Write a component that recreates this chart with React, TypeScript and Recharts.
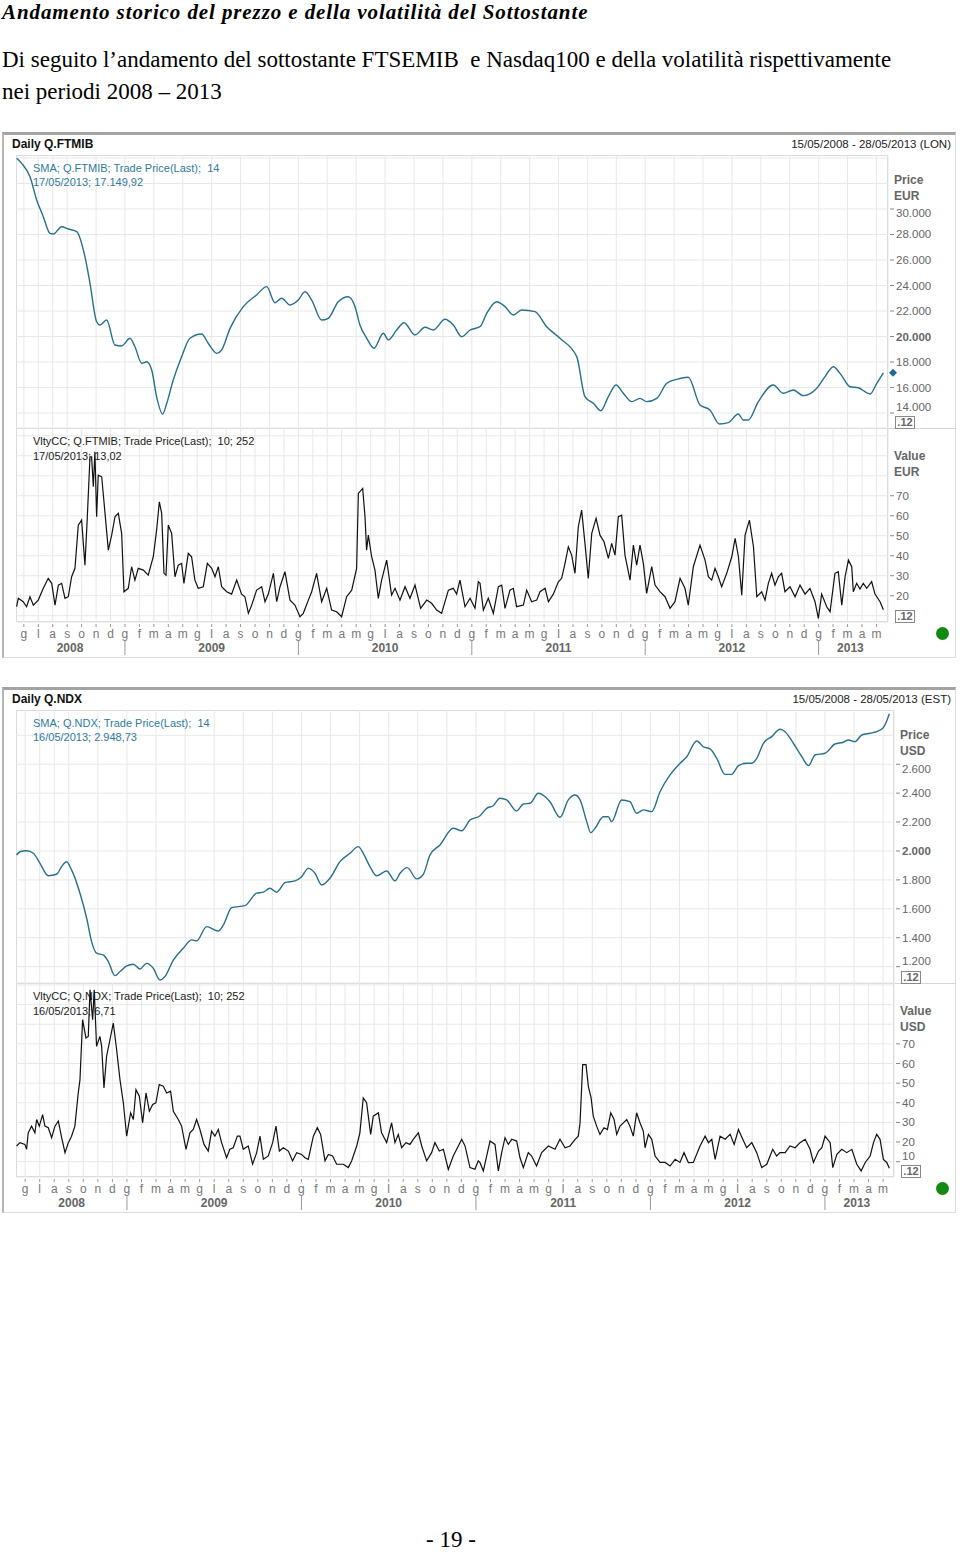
import React from "react";
import { LineChart, Line, XAxis, YAxis, CartesianGrid, ReferenceDot } from "recharts";

const FONT = "'Liberation Sans', Arial, sans-serif";
const SERIF = "'Liberation Serif', 'Times New Roman', serif";

// x values are months since 1 Jan 2008 (fractional)

// FTSE MIB – SMA 14
const ftmibSmaMonths = [
  4.51, 4.85, 5.43, 5.89, 6.35, 6.81, 7.04, 7.62, 8.08, 8.66,
  9.23, 9.58, 10.04, 10.27, 10.73, 11.31, 11.77, 12.35, 12.69, 13.16,
  13.5, 13.85, 14.19, 14.61, 14.89, 15.34, 15.92, 16.5, 17.31, 17.76,
  18.35, 18.69, 19.27, 20.19, 21.11, 21.81, 22.38, 22.84, 23.42, 23.99,
  24.46, 24.92, 25.61, 26.07, 26.76, 27.45, 27.92, 28.26, 28.73, 29.23,
  29.88, 30.22, 30.8, 31.31, 32.07, 32.76, 33.34, 34.15, 34.72, 35.3,
  35.88, 36.57, 37.03, 37.72, 38.3, 38.87, 39.45, 40.37, 41.18, 42.1,
  43.26, 43.83, 44.41, 44.92, 45.45, 45.98, 46.48, 47.07, 47.64, 48.1,
  48.8, 49.49, 50.18, 50.98, 51.79, 52.48, 53.13, 53.75, 54.44, 54.79,
  55.13, 55.83, 56.86, 57.56, 58.25, 58.94, 59.87, 60.44, 61.02, 61.48,
  62.17, 62.75, 63.56, 64.02, 64.48,
];
const ftmibSmaValues = [
  33980, 33580, 32530, 30710, 29400, 28090, 28040, 28610, 28430, 28220,
  26260, 24170, 21160, 20900, 21290, 19330, 19260, 19860, 19200, 17900,
  18020, 17370, 15280, 13920, 14760, 16590, 18420, 19860, 20200, 19470,
  18680, 18940, 20640, 22340, 23260, 23910, 22650, 23000, 22470, 22860,
  23510, 22860, 21290, 21430, 22730, 23120, 22340, 20900, 19860, 19080,
  20250, 19730, 20510, 21080, 20120, 20720, 20510, 21350, 20900, 19980,
  20510, 20770, 21820, 22730, 22340, 21690, 22080, 21950, 20770, 19860,
  18420, 15280, 14760, 14180, 15280, 16200, 15550, 14890, 15150, 14890,
  15150, 16330, 16640, 16800, 14630, 14240, 13140, 13240, 13920, 13450,
  13450, 14890, 16200, 15550, 15800, 15360, 15940, 16850, 17630, 17110,
  16060, 15980, 15490, 16330, 17150,
];

// FTSE MIB – volatility (10; 252)
const ftmibVolMonths = [
  4.5, 4.62, 4.96, 5.19, 5.43, 5.66, 6.0, 6.35, 6.69, 6.93,
  7.16, 7.39, 7.62, 7.85, 8.08, 8.31, 8.54, 8.77, 9.0, 9.23,
  9.39, 9.58, 9.69, 9.81, 9.92, 10.04, 10.15, 10.39, 10.62, 10.85,
  11.08, 11.31, 11.54, 11.77, 11.93, 12.23, 12.46, 12.69, 12.92, 13.27,
  13.61, 13.96, 14.19, 14.38, 14.54, 14.7, 14.84, 15.0, 15.23, 15.46,
  15.69, 15.92, 16.08, 16.38, 16.61, 16.84, 17.07, 17.42, 17.7, 18.0,
  18.23, 18.46, 18.69, 19.04, 19.38, 19.73, 20.07, 20.3, 20.54, 20.77,
  21.11, 21.46, 21.69, 21.92, 22.27, 22.5, 22.73, 23.07, 23.42, 23.76,
  24.11, 24.34, 24.69, 24.92, 25.26, 25.61, 25.96, 26.3, 26.65, 26.99,
  27.34, 27.69, 28.03, 28.15, 28.45, 28.61, 28.72, 28.84, 29.07, 29.3,
  29.53, 29.76, 30.11, 30.45, 30.69, 31.03, 31.38, 31.72, 32.07, 32.46,
  32.88, 33.22, 33.57, 33.91, 34.38, 34.72, 34.95, 35.18, 35.53, 35.88,
  36.22, 36.45, 36.57, 36.8, 37.14, 37.49, 37.84, 38.07, 38.3, 38.64,
  38.87, 39.1, 39.57, 39.8, 40.14, 40.49, 40.72, 41.07, 41.3, 41.64,
  41.99, 42.22, 42.45, 42.68, 42.91, 43.14, 43.37, 43.6, 43.83, 44.06,
  44.3, 44.6, 44.87, 45.15, 45.45, 45.68, 45.91, 46.14, 46.37, 46.6,
  46.95, 47.18, 47.41, 47.64, 47.87, 48.1, 48.45, 48.68, 49.02, 49.37,
  49.72, 50.06, 50.41, 50.75, 50.98, 51.33, 51.79, 52.14, 52.37, 52.6,
  52.83, 53.06, 53.29, 53.64, 53.99, 54.22, 54.45, 54.68, 54.91, 55.21,
  55.49, 55.72, 56.06, 56.29, 56.52, 56.75, 56.98, 57.21, 57.44, 57.67,
  58.02, 58.37, 58.71, 59.06, 59.4, 59.75, 59.98, 60.21, 60.56, 60.79,
  61.13, 61.36, 61.6, 61.83, 62.06, 62.29, 62.4, 62.63, 62.86, 63.09,
  63.33, 63.67, 63.9, 64.25, 64.48,
];
const ftmibVolValues = [
  14.5, 18.7, 17, 14.5, 19.5, 15.3, 17.8, 23.7, 28.7, 26.2,
  15.3, 25.3, 26.2, 18.7, 19.5, 29.5, 33.7, 55.3, 57.8, 35.3,
  58.7, 89.5, 89.5, 74.5, 92, 59.5, 80.3, 79.5, 61.2, 42.8,
  50.3, 59.5, 61.2, 51.2, 22, 23.7, 34.5, 27.8, 33.7, 32.8,
  30.3, 39.5, 52.8, 67, 61.2, 31.2, 30.3, 55.3, 51.2, 29.5,
  35.3, 36.2, 26.2, 41.2, 39.5, 27.8, 23.7, 24.5, 36.2, 33.7,
  29.5, 34.5, 24.5, 22, 20.8, 27.8, 20.8, 19.5, 11.2, 15.3,
  22.8, 24.5, 17, 20.8, 31.2, 17, 24.5, 32, 17.8, 15.3,
  9.5, 11.2, 17.8, 22, 31.2, 17, 23.7, 12.8, 12, 9.5,
  19.5, 22.8, 33.7, 71.2, 73.7, 59.5, 42.8, 50.3, 39.5, 32.8,
  18.7, 27.8, 37.8, 20.3, 23.7, 17.8, 24.5, 18.7, 25.3, 13.7,
  17.8, 16.2, 12.8, 11.2, 22.8, 23.7, 20.8, 27.8, 14.5, 18.7,
  13.7, 27, 26.2, 12.8, 18.7, 11.2, 24.5, 25.3, 13.7, 22.8,
  23.7, 14.5, 15.3, 22.8, 17, 17.8, 22, 23.7, 17, 20.8,
  27, 28.7, 36.2, 44.5, 40.3, 31.2, 54.5, 62.8, 46.2, 28.7,
  51.2, 58.7, 50.3, 47, 38.7, 46.2, 40.3, 59.5, 60.3, 40.3,
  27.8, 45.3, 35.3, 45.3, 36.2, 21.2, 34.5, 25.3, 22, 19.5,
  13.7, 17, 28.7, 23.7, 15.3, 34.5, 45.3, 37.8, 29.5, 27.8,
  33.7, 29.5, 24.5, 31.2, 39.5, 48.7, 39.5, 20.3, 50.3, 57.8,
  44.5, 19.5, 22, 17.8, 26.2, 31.2, 25.3, 29.5, 31.2, 22,
  24.5, 19.5, 25.3, 20.8, 23.7, 17, 8.7, 20.8, 14.5, 12,
  31.2, 32, 15.3, 29.5, 37.8, 34.5, 22, 26.2, 23.3, 26.2,
  23.7, 27, 20.8, 17, 13.02,
];

// Nasdaq 100 – SMA 14
const ndxSmaMonths = [
  4.41, 4.64, 5.1, 5.56, 6.02, 6.59, 7.16, 7.51, 7.85, 8.19,
  8.77, 9.23, 9.57, 9.91, 10.37, 10.72, 11.17, 11.52, 11.98, 12.44,
  12.89, 13.35, 13.81, 14.27, 14.61, 15.19, 15.87, 16.45, 16.79, 17.48,
  18.28, 18.63, 19.2, 20.12, 20.92, 21.38, 21.83, 22.29, 22.87, 23.55,
  24.01, 24.47, 24.93, 25.39, 25.96, 26.65, 27.34, 27.91, 28.25, 28.71,
  29.17, 29.86, 30.43, 30.78, 31.28, 31.92, 32.38, 32.84, 33.53, 34.44,
  35.02, 35.59, 36.28, 36.74, 37.19, 37.65, 38.11, 38.8, 39.26, 39.72,
  40.29, 41.09, 41.78, 42.35, 42.81, 43.16, 43.62, 43.89, 44.19, 44.76,
  45.1, 45.33, 46.02, 46.59, 47.05, 47.51, 48.09, 48.66, 49.35, 50.04,
  50.5, 51.18, 51.64, 52.1, 52.56, 53.13, 53.59, 54.05, 54.62, 54.97,
  55.31, 55.77, 56.34, 56.91, 57.26, 57.83, 58.41, 58.87, 59.32, 60.01,
  60.69, 61.27, 61.61, 62.07, 62.53, 63.1, 63.56, 64.02, 64.43,
];
const ndxSmaValues = [
  1972, 1995, 2002, 1984, 1915, 1829, 1839, 1892, 1926, 1869,
  1708, 1535, 1373, 1293, 1281, 1235, 1138, 1166, 1205, 1217,
  1184, 1223, 1189, 1108, 1131, 1246, 1327, 1385, 1378, 1477,
  1447, 1488, 1608, 1622, 1708, 1715, 1742, 1715, 1781, 1793,
  1822, 1880, 1846, 1765, 1811, 1926, 1984, 2030, 1984, 1892,
  1829, 1862, 1793, 1846, 1885, 1807, 1839, 1972, 2042, 2157,
  2140, 2214, 2244, 2295, 2313, 2365, 2353, 2277, 2325, 2330,
  2399, 2341, 2233, 2353, 2387, 2353, 2203, 2127, 2157, 2237,
  2237, 2203, 2353, 2341, 2261, 2284, 2272, 2410, 2526, 2607,
  2652, 2761, 2721, 2706, 2641, 2530, 2530, 2590, 2607, 2607,
  2641, 2745, 2791, 2842, 2825, 2745, 2652, 2590, 2664, 2676,
  2740, 2752, 2768, 2756, 2802, 2814, 2825, 2853, 2949,
];

// Nasdaq 100 – volatility (10; 252)
const ndxVolMonths = [
  4.41, 4.64, 4.98, 5.1, 5.21, 5.44, 5.67, 5.79, 5.97, 6.2,
  6.36, 6.59, 6.82, 7.05, 7.28, 7.51, 7.74, 7.97, 8.19, 8.42,
  8.65, 8.77, 8.95, 9.18, 9.34, 9.46, 9.64, 9.75, 9.91, 10.14,
  10.26, 10.42, 10.6, 10.83, 11.06, 11.29, 11.52, 11.75, 11.98, 12.25,
  12.44, 12.62, 12.85, 13.08, 13.31, 13.54, 13.77, 13.99, 14.22, 14.5,
  14.73, 15.0, 15.19, 15.53, 15.76, 16.06, 16.33, 16.56, 16.79, 17.02,
  17.3, 17.59, 17.82, 18.05, 18.28, 18.51, 18.85, 19.08, 19.31, 19.59,
  19.77, 20.0, 20.34, 20.64, 20.92, 21.15, 21.38, 21.72, 22.02, 22.25,
  22.48, 22.75, 23.1, 23.39, 23.67, 24.01, 24.24, 24.47, 24.82, 25.09,
  25.32, 25.62, 25.85, 26.14, 26.42, 26.88, 27.22, 27.45, 27.8, 28.02,
  28.25, 28.48, 28.76, 28.94, 29.29, 29.51, 29.86, 30.2, 30.43, 30.66,
  30.89, 31.19, 31.46, 31.69, 32.04, 32.27, 32.61, 32.95, 33.18, 33.48,
  33.76, 34.1, 34.44, 34.79, 35.02, 35.25, 35.59, 35.93, 36.16, 36.28,
  36.51, 36.74, 36.97, 37.31, 37.54, 37.77, 38.0, 38.23, 38.46, 38.8,
  39.03, 39.26, 39.6, 39.83, 40.17, 40.52, 40.98, 41.44, 41.78, 42.13,
  42.47, 42.82, 43.04, 43.16, 43.34, 43.57, 43.73, 43.92, 44.07, 44.3,
  44.53, 44.81, 45.04, 45.27, 45.5, 45.68, 45.91, 46.14, 46.37, 46.59,
  46.82, 47.05, 47.28, 47.51, 47.63, 47.86, 48.09, 48.32, 48.66, 49.01,
  49.35, 49.7, 50.03, 50.31, 50.61, 50.95, 51.41, 51.76, 51.99, 52.22,
  52.45, 52.79, 53.14, 53.48, 53.76, 54.05, 54.35, 54.62, 54.97, 55.31,
  55.65, 56.0, 56.41, 56.68, 56.91, 57.26, 57.6, 57.95, 58.29, 58.64,
  58.98, 59.21, 59.56, 59.79, 60.01, 60.36, 60.54, 60.82, 61.16, 61.5,
  61.85, 62.19, 62.49, 62.77, 63.11, 63.34, 63.56, 63.79, 64.02, 64.25,
  64.43,
];
const ndxVolValues = [
  18, 19.7, 18.8, 16.3, 24.7, 28.1, 24.7, 31.5, 28.1, 34,
  28.1, 27.3, 22.2, 28.1, 30.7, 22.2, 14.6, 19.7, 23, 28.1,
  45, 51.8, 82.3, 73, 73.8, 97.5, 82.3, 97.5, 68.7, 73.8,
  68.7, 47.6, 63.7, 72.1, 80.6, 67, 51.8, 40, 23, 34.9,
  31.5, 46.7, 43.4, 29.8, 45, 35.7, 39.1, 40, 49.3, 48.4,
  45, 45.9, 35.7, 31.5, 28.1, 16.3, 24.7, 26.4, 31.5, 26.4,
  18.8, 15.4, 25.6, 23, 26.4, 19.7, 12, 16.3, 17.1, 23,
  23, 16.3, 18, 8.7, 14.6, 23, 11.2, 12.9, 19.7, 28.1,
  15.4, 17.1, 15.4, 10.4, 14.6, 13.7, 12, 11.2, 23, 27.3,
  23.9, 10.4, 13.7, 12.9, 8.7, 8.7, 7, 10.4, 18, 24.7,
  42.5, 40, 23.9, 33.2, 34.9, 24.7, 19.7, 29.8, 19.7, 23.9,
  17.1, 19.7, 18.8, 21.4, 24.7, 18, 10.4, 14.6, 19.7, 15.4,
  16.3, 6.1, 12.9, 18, 21.4, 18, 7, 6.1, 10.4, 9.5,
  5.3, 12.9, 20.5, 18.8, 5.3, 14.6, 22.2, 18.8, 21.4, 20.5,
  12, 7, 14.6, 12.9, 7.8, 14.6, 18, 16.3, 21.4, 17.1,
  18, 21.4, 23, 29.8, 59.4, 59.4, 48.4, 42.5, 33.2, 28.1,
  23.9, 27.3, 26.4, 34.9, 31.5, 23.9, 28.1, 29.8, 31.5, 28.1,
  23, 34.9, 29.8, 25.6, 17.1, 23.9, 21.4, 12.9, 9.6, 9.6,
  7.8, 11.2, 9.6, 14.6, 9.5, 9.6, 18, 23, 19.7, 21.4,
  11.2, 23, 21.4, 23.9, 18.8, 26.4, 21.4, 17.1, 19.7, 14.6,
  7, 8.7, 16.3, 12.9, 14.6, 14.6, 18, 17.1, 19.7, 21.4,
  16.3, 9.6, 15.4, 17.1, 23, 19.7, 7, 13.7, 16.3, 14.6,
  16.3, 8.7, 5.3, 9.6, 12.9, 19.7, 23.9, 21.4, 11.2, 9.6,
  6.71,
];

// axis labels
const MONTH_LETTERS = ["g", "f", "m", "a", "m", "g", "l", "a", "s", "o", "n", "d"];
const MONTH_STARTS = [
  5, 6, 7, 8, 9, 10, 11, 12, 13, 14, 15, 16, 17, 18, 19, 20, 21, 22, 23, 24,
  25, 26, 27, 28, 29, 30, 31, 32, 33, 34, 35, 36, 37, 38, 39, 40, 41, 42, 43, 44,
  45, 46, 47, 48, 49, 50, 51, 52, 53, 54, 55, 56, 57, 58, 59, 60, 61, 62, 63, 64,
];
const YEARS = ["2008", "2009", "2010", "2011", "2012", "2013"];
const YEAR_MIDS = [8.2, 18, 30, 42, 54, 62.2];

const ftmibPriceTicks = [14000, 16000, 18000, 20000, 22000, 24000, 26000, 28000, 30000, 32000, 34000];
const ndxPriceTicks = [1200, 1400, 1600, 1800, 2000, 2200, 2400, 2600, 2800];
const volTicks = [10, 20, 30, 40, 50, 60, 70, 80, 90, 100];

const rows = (ms: number[], vs: number[]) => ms.map((m, i) => ({ m, v: vs[i] }));
const dots = (v: number) => String(v).replace(/\B(?=(\d{3})+(?!\d))/g, ".");

const MonthTick = (props: any) => {
  const { x, y, payload } = props;
  const m = Math.round(payload.value);
  return (
    <g>
      <line x1={x} x2={x} y1={y + 2} y2={y + 5} stroke="#999" />
      <text x={x} y={y + 16} textAnchor="middle" fontSize={12} fill="#777" fontFamily={FONT}>
        {MONTH_LETTERS[m % 12]}
      </text>
      {m % 12 === 0 && <line x1={x} x2={x} y1={y + 19} y2={y + 33} stroke="#999" />}
    </g>
  );
};

const YearTick = (props: any) => {
  const { x, y, payload } = props;
  const i = YEAR_MIDS.indexOf(payload.value);
  return (
    <text x={x} y={y + 12} textAnchor="middle" fontSize={12} fontWeight="bold" fill="#666" fontFamily={FONT}>
      {i >= 0 ? YEARS[i] : ""}
    </text>
  );
};

const makeRightTick = (maxLabel: number, minLabel: number, bold: number | null, shifts: Record<number, number>) =>
  (props: any) => {
    const { x, y, payload } = props;
    const v = payload.value;
    if (v > maxLabel || v < minLabel) return <g />;
    const dy = shifts[v] ?? 0;
    return (
      <g>
        <line x1={x + 2} x2={x + 6} y1={y} y2={y} stroke="#888" />
        <text x={x + 8} y={y + dy + 4} fontSize={11.5} fill="#666" fontWeight={v === bold ? "bold" : "normal"} fontFamily={FONT}>
          {dots(v)}
        </text>
      </g>
    );
  };

type PanelProps = {
  top: number;
  plotRight: number;
  title: string;
  range: string;
  currency: string;
  sma: { m: number; v: number }[];
  vol: { m: number; v: number }[];
  xDomain: [number, number];
  priceDomain: [number, number];
  priceTicks: number[];
  priceTick: any;
  volDomain: [number, number];
  volTick: any;
  smaLegend: [string, string];
  volLegend: [string, string];
  marker?: boolean;
};

const box = (left: number, top: number, width: number, height: number, extra: any = {}) => ({
  position: "absolute" as const, left, top, width, height, boxSizing: "border-box" as const, ...extra,
});

const label = (left: number, centerY: number, extra: any = {}) => ({
  position: "absolute" as const, left, top: centerY - 7, height: 14, lineHeight: "14px",
  fontFamily: FONT, whiteSpace: "pre" as const, ...extra,
});

function Panel(p: PanelProps) {
  const T = p.top;
  const plotW = p.plotRight - 16;
  const axisW = 956 - p.plotRight;
  const last = p.sma[p.sma.length - 1];
  return (
    <>
      <div style={box(2, T, 954, 526, { borderTop: "3px solid #a3a3a3", borderLeft: "2px solid #b5b5b5", borderRight: "1px solid #dcdcdc", borderBottom: "1px solid #dcdcdc" })} />
      <div style={box(16, T + 23, plotW, 467, { border: "1px solid #cfcfcf" })} />
      <div style={box(16, T + 296, 940, 1, { background: "#d6d6d6" })} />
      <div style={label(12, T + 12, { fontSize: 12, fontWeight: "bold", color: "#111" })}>{p.title}</div>
      <div style={label(600, T + 12, { width: 351, textAlign: "right", fontSize: 11.5, color: "#222" })}>{p.range}</div>

      <LineChart width={940} height={273} margin={{ top: 0, right: 0, bottom: 0, left: 0 }} style={{ position: "absolute", left: 16, top: T + 23 }}>
        <CartesianGrid stroke="#e8e8e8" />
        <XAxis dataKey="m" type="number" domain={p.xDomain} ticks={MONTH_STARTS} allowDataOverflow hide />
        <YAxis
          type="number" orientation="right" width={axisW} domain={p.priceDomain} ticks={p.priceTicks} allowDataOverflow
          interval={0} axisLine={false} tickLine={false} tickSize={0} tickMargin={0} tick={p.priceTick}
        />
        <Line data={p.sma} dataKey="v" type="monotone" stroke="#26708e" strokeWidth={1.4} dot={false} isAnimationActive={false} />
        {p.marker && (
          <ReferenceDot
            x={p.xDomain[1]} y={last.v} r={0} ifOverflow="visible"
            shape={(s: any) => (
              <polygon
                points={`${s.cx + 5},${s.cy - 4} ${s.cx + 9},${s.cy} ${s.cx + 5},${s.cy + 4} ${s.cx + 1},${s.cy}`}
                fill="#1f6a96"
              />
            )}
          />
        )}
      </LineChart>

      <LineChart width={940} height={228} margin={{ top: 0, right: 0, bottom: 0, left: 0 }} style={{ position: "absolute", left: 16, top: T + 296 }}>
        <CartesianGrid stroke="#e8e8e8" />
        <XAxis
          dataKey="m" type="number" domain={p.xDomain} ticks={MONTH_STARTS} allowDataOverflow interval={0}
          height={18} axisLine={false} tickLine={false} tickSize={0} tickMargin={0} tick={MonthTick}
        />
        <XAxis
          xAxisId="yr" dataKey="m" type="number" domain={p.xDomain} ticks={YEAR_MIDS} allowDataOverflow interval={0}
          height={16} axisLine={false} tickLine={false} tickSize={0} tickMargin={0} tick={YearTick}
        />
        <YAxis
          type="number" orientation="right" width={axisW} domain={p.volDomain} ticks={volTicks} allowDataOverflow
          interval={0} axisLine={false} tickLine={false} tickSize={0} tickMargin={0} tick={p.volTick}
        />
        <Line xAxisId="yr" data={p.vol} dataKey="v" stroke="none" strokeOpacity={0} dot={false} activeDot={false} isAnimationActive={false} />
        <Line data={p.vol} dataKey="v" type="linear" stroke="#111" strokeWidth={1.2} dot={false} isAnimationActive={false} />
      </LineChart>

      <div style={label(33, T + 36, { fontSize: 11, color: "#2f7b9d" })}>{p.smaLegend[0]}</div>
      <div style={label(33, T + 50, { fontSize: 11, color: "#2f7b9d" })}>{p.smaLegend[1]}</div>
      <div style={label(33, T + 309, { fontSize: 11, color: "#1a1a1a" })}>{p.volLegend[0]}</div>
      <div style={label(33, T + 324, { fontSize: 11, color: "#1a1a1a" })}>{p.volLegend[1]}</div>

      <div style={label(p.plotRight + 6, T + 48, { fontSize: 12, fontWeight: "bold", color: "#666" })}>Price</div>
      <div style={label(p.plotRight + 6, T + 64, { fontSize: 12, fontWeight: "bold", color: "#666" })}>{p.currency}</div>
      <div style={label(p.plotRight + 6, T + 324, { fontSize: 12, fontWeight: "bold", color: "#666" })}>Value</div>
      <div style={label(p.plotRight + 6, T + 340, { fontSize: 12, fontWeight: "bold", color: "#666" })}>{p.currency}</div>

      {[T + 284, T + 478].map((y) => (
        <div key={y} style={box(p.plotRight + 7, y, 20, 13, { border: "1px solid #888", fontFamily: FONT, fontSize: 11, fontWeight: "bold", color: "#666", lineHeight: "11px", textAlign: "center" })}>.12</div>
      ))}
      <div style={box(936, T + 495, 13, 13, { borderRadius: "50%", background: "#128a12" })} />
    </>
  );
}

export default function App() {
  return (
    <div style={{ position: "relative", width: 960, height: 1558, background: "#fff", overflow: "hidden" }}>
      <style>{"body{margin:0}"}</style>
      <div style={{ position: "absolute", left: 2, top: 1.5, fontFamily: SERIF, fontSize: 21, lineHeight: "21px", letterSpacing: 0.9, fontWeight: "bold", fontStyle: "italic", whiteSpace: "nowrap" }}>
        Andamento storico del prezzo e della volatilità del Sottostante
      </div>
      <div style={{ position: "absolute", left: 2, top: 48, fontFamily: SERIF, fontSize: 23, lineHeight: "24px", whiteSpace: "pre" }}>
        Di seguito l’andamento del sottostante FTSEMIB  e Nasdaq100 e della volatilità rispettivamente
      </div>
      <div style={{ position: "absolute", left: 2, top: 80, fontFamily: SERIF, fontSize: 23, lineHeight: "24px", whiteSpace: "pre" }}>
        nei periodi 2008 – 2013
      </div>

      <Panel
        top={132}
        plotRight={888}
        title="Daily Q.FTMIB"
        range="15/05/2008 - 28/05/2013 (LON)"
        currency="EUR"
        sma={rows(ftmibSmaMonths, ftmibSmaValues)}
        vol={rows(ftmibVolMonths, ftmibVolValues)}
        xDomain={[4.46, 64.8]}
        priceDomain={[12824, 34235]}
        priceTicks={ftmibPriceTicks}
        priceTick={makeRightTick(30000, 14000, 20000, { 30000: 4, 14000: -6 })}
        volDomain={[6.85, 103.9]}
        volTick={makeRightTick(70, 20, null, {})}
        smaLegend={["SMA; Q.FTMIB; Trade Price(Last);  14", "17/05/2013; 17.149,92"]}
        volLegend={["VltyCC; Q.FTMIB; Trade Price(Last);  10; 252", "17/05/2013; 13,02"]}
        marker
      />

      <Panel
        top={687}
        plotRight={894}
        title="Daily Q.NDX"
        range="15/05/2008 - 28/05/2013 (EST)"
        currency="USD"
        sma={rows(ndxSmaMonths, ndxSmaValues)}
        vol={rows(ndxVolMonths, ndxVolValues)}
        xDomain={[4.37, 64.75]}
        priceDomain={[1087, 2975]}
        priceTicks={ndxPriceTicks}
        priceTick={makeRightTick(2600, 1200, 2000, { 2600: 5, 1200: -6 })}
        volDomain={[2.2, 101]}
        volTick={makeRightTick(70, 10, null, { 10: -6 })}
        smaLegend={["SMA; Q.NDX; Trade Price(Last);  14", "16/05/2013; 2.948,73"]}
        volLegend={["VltyCC; Q.NDX; Trade Price(Last);  10; 252", "16/05/2013; 6,71"]}
      />

      <div style={{ position: "absolute", left: 0, width: 902, top: 1528, textAlign: "center", fontFamily: SERIF, fontSize: 23, lineHeight: "24px" }}>
        - 19 -
      </div>
    </div>
  );
}
